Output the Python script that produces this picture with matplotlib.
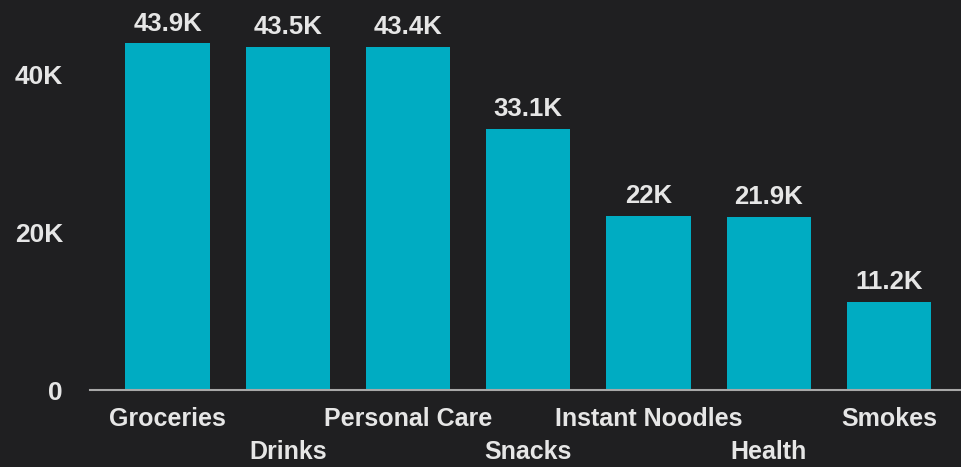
import matplotlib.pyplot as plt
from matplotlib.ticker import FuncFormatter

categories = ['Groceries', 'Drinks', 'Personal Care', 'Snacks', 'Instant Noodles', 'Health', 'Smokes']
sales = [43900, 43500, 43400, 33100, 22000, 21900, 11200]
bar_labels = ['43.9K', '43.5K', '43.4K', '33.1K', '22K', '21.9K', '11.2K']

bg = '#1f1f21'
bar_color = '#00acc2'
text_color = '#e6e6e6'

plt.rcParams['font.family'] = ['Liberation Sans', 'DejaVu Sans']

fig = plt.figure(figsize=(9.61, 4.67), dpi=100, facecolor=bg)
ax = fig.add_axes([90 / 961, 1 - 390 / 467, 1 - 90 / 961, 390 / 467])
ax.set_facecolor(bg)

x = range(len(categories))
ax.bar(x, sales, width=0.7, color=bar_color)

for i, v in enumerate(sales):
    ax.text(i, v + 1000, bar_labels[i], ha='center', va='bottom',
            color=text_color, fontsize=18.5, fontweight='bold')

ax.set_xlim(-0.645, 6.6)
ax.set_ylim(0, 49400)
ax.set_yticks([0, 20000, 40000])
ax.yaxis.set_major_formatter(FuncFormatter(lambda v, p: '0' if v == 0 else f'{int(v / 1000)}K'))

ax.set_xticks(list(x))
ax.set_xticklabels([c if i % 2 == 0 else '\n' + c for i, c in enumerate(categories)],
                   linespacing=1.5, fontsize=18, fontweight='bold')
for lab in ax.get_yticklabels():
    lab.set_fontsize(19)
    lab.set_fontweight('bold')

for s in ['top', 'right', 'left']:
    ax.spines[s].set_visible(False)
ax.spines['bottom'].set_color('#a8a8a8')
ax.spines['bottom'].set_linewidth(1.5)

ax.tick_params(axis='both', length=0, colors=text_color)
ax.tick_params(axis='y', pad=19.5)
ax.tick_params(axis='x', pad=12)

fig.savefig('out.png', dpi=100, facecolor=bg)
